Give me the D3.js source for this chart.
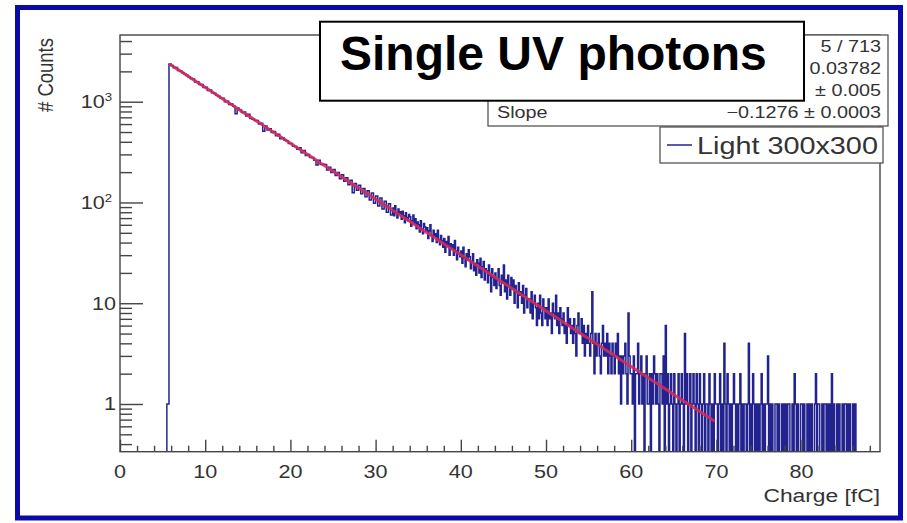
<!DOCTYPE html>
<html><head><meta charset="utf-8">
<script src="https://cdn.jsdelivr.net/npm/d3@7"></script>
<style>body{margin:0;background:#fff}svg{display:block}</style>
</head><body><svg id="c" width="907" height="523"></svg>
<script>
// ---------------- data ----------------
const xTickValues = [0, 10, 20, 30, 40, 50, 60, 70, 80];
const yTickValues = [1, 10, 100, 1000];
const yTickLabels = [["1", ""], ["10", ""], ["10", "2"], ["10", "3"]];
const xDomain = [0, 89.2];
const yDomain = [0.3362, 4592];

// histogram counts, section 1: bins of 0.25 fC starting at 5.5 fC
const mainStart = 5.5, mainWidth = 0.25;
const countsMain = [
  1, 2370,
  2290, 2170, 2180, 2040,  2020, 1950, 1870, 1820,  1760, 1700, 1680, 1570,  1580, 1480, 1480, 1380,
  1390, 1290, 1310, 1230,  1210, 1160, 1130, 1080,  1080, 1000, 1010, 940,   950, 900, 760, 860,
  830, 780, 790, 720,      750, 680, 670, 650,      650, 600, 610, 510,      575, 525, 540, 495,
  505, 460, 475, 430,      440, 415, 410, 385,      385, 362, 360, 338,      350, 312, 328, 292,
  300, 280, 280, 262,      236, 262, 238, 240,      238, 210, 224, 198,      212, 185, 198, 172,
  188, 162, 176, 150,      166, 125, 154, 132,      148, 122, 138, 114,      131, 106, 124, 98,
  116, 92, 111, 86,        103, 80, 97, 75
];
// section 2: bins of 0.125 fC starting at 32 fC
const midStart = 32, midWidth = 0.125;
const countsMid = [
  88,74,93,79,70,86,77,81,  68,82,74,63,79,71,66,76,  72,58,66,75,61,69,55,64,
  60,51,66,55,49,62,57,52,  56,44,52,60,47,41,53,46,  49,40,53,43,38,47,42,36,
  44,32,41,37,46,30,39,35,  38,30,42,33,27,36,31,29,  33,25,36,28,23,31,27,34,
  29,22,26,31,21,25,19,27,  25,20,28,18,23,26,17,22,  21,16,24,19,13,22,18,15,
  20,14,17,22,15,12,19,16,  24,13,17,11,19,15,12,18,  14,17,10,15,13,9,16,12,
  13,10,15,8,12,14,9,11,    11,8,13,7,10,12,9,6,      10,7,12,8,6,11,9,7
];
// section 3 (tail): bins of 0.125 fC starting at 50 fC
const tailStart = 50, tailWidth = 0.125;
const countsTail = [
  9,6,11,7,8,5,10,8,  7,12,6,8,5,9,7,6,  8,5,6,4,9,6,7,5,  6,4,7,5,3,6,8,5,  5,7,4,6,3,5,4,6,
  4,3,5,13,4,2,5,3,  4,5,3,2,4,6,3,4,  3,5,2,4,3,2,4,3,  2,4,3,5,2,3,1,3,  2,3,4,2,1,8,3,2,
  2,1,3,0,2,2,4,1,  2,3,1,2,0,2,3,1,  1,2,0,2,1,3,2,1,  2,1,0,2,2,1,3,0,  6,1,2,0,1,2,1,0,
  2,1,0,1,2,0,1,2,  1,0,5,1,2,0,1,2,  0,1,2,1,0,2,1,0,  2,1,0,1,2,0,1,1,  0,2,1,0,1,0,2,1,
  1,0,1,2,0,1,0,4,  1,0,2,1,0,1,0,1,  2,1,0,1,0,1,2,0,  1,0,1,1,0,1,4,0,  1,0,2,1,0,1,0,1,
  0,1,2,0,1,0,1,1,  3,0,1,0,1,0,0,1,  1,0,1,0,0,1,0,1,  0,1,0,1,1,0,0,1,  0,2,1,0,1,0,0,1,
  1,0,1,0,0,1,0,1,  0,1,0,0,1,2,0,1,  1,0,0,1,0,1,1,0,  1,0,1,0,2,0,1,0,  0,1,0,1,0,0,1,0,
  1,1,0,1,0,1,0,0,  1,0,1,0,0,0,0,0
];
// exponential fit: N = exp(constant + slope * x)
const fitConstant = 8.511, fitSlope = -0.1276, fitRange = [5.8, 70];
const statsLabels = ["", "", "", "Slope"];
const statsValues = ["5 / 713", "0.03782", "\u00b1 0.005", "\u22120.1276 \u00b1 0.0003"];
const legendLabel = "Light 300x300";
const titleText = "Single UV photons";
const xTitle = "Charge [fC]", yTitle = "# Counts";

// ---------------- layout ----------------
const L = 120, R = 880, T = 35, B = 451.7;
const svg = d3.select("#c");
const FONT = '"Liberation Sans", Arial, Helvetica, sans-serif';
const TXT = "#333";
const HIST = "#23238f";
const x = d3.scaleLinear().domain(xDomain).range([L, R]);
const y = d3.scaleLog().domain(yDomain).range([B, T]);

svg.append("rect").attr("width", 907).attr("height", 523).attr("fill", "#fff");

// stretched text helper (the original plot is stretched horizontally)
function stext(parent, px, py, str, size, anchor, weight) {
  const g = parent.append("g").attr("transform", `translate(${px},${py}) scale(1.2,1)`);
  return g.append("text").attr("text-anchor", anchor || "start")
    .style("font-family", FONT).style("font-size", size + "px")
    .style("font-weight", weight || "normal").attr("fill", TXT).text(str);
}

svg.append("clipPath").attr("id", "frameClip").append("rect")
  .attr("x", L).attr("y", T).attr("width", R - L).attr("height", B - T);

// ---------------- histogram ----------------
const bins = [];
countsMain.forEach((v, i) => bins.push({x0: mainStart + i * mainWidth, x1: mainStart + (i + 1) * mainWidth, v}));
countsMid.forEach((v, i) => bins.push({x0: midStart + i * midWidth, x1: midStart + (i + 1) * midWidth, v}));
countsTail.forEach((v, i) => bins.push({x0: tailStart + i * tailWidth, x1: tailStart + (i + 1) * tailWidth, v}));
let d = `M${x(bins[0].x0)},${B}`;
bins.forEach(b => {
  const yy = b.v > 0 ? y(b.v) : B;
  d += `V${yy}H${x(b.x1)}`;
});
d += `V${B}`;
svg.append("path").attr("d", d).attr("fill", "none").attr("stroke", HIST)
  .attr("stroke-width", 1.5).attr("clip-path", "url(#frameClip)");

// ---------------- fit ----------------
const fitPts = d3.range(fitRange[0], fitRange[1] + 0.001, 0.5).map(v => [v, Math.exp(fitConstant + fitSlope * v)]);
svg.append("path").attr("d", d3.line().x(p => x(p[0])).y(p => y(p[1]))(fitPts))
  .attr("fill", "none").attr("stroke", "#d42a5c").attr("stroke-width", 3).attr("opacity", 0.88);

// ---------------- frame & axes ----------------
const AX = "#444";
svg.append("rect").attr("x", L).attr("y", T).attr("width", R - L).attr("height", B - T)
  .attr("fill", "none").attr("stroke", AX).attr("stroke-width", 1.4);

const yMinor = [];
for (let e = -1; e <= 3; e++) for (let k = 2; k <= 9; k++) {
  const v = k * Math.pow(10, e);
  if (v > yDomain[0] && v < yDomain[1]) yMinor.push(v);
}
const yMinAxis = svg.append("g").attr("transform", `translate(${L},0)`)
  .call(d3.axisLeft(y).tickValues(yMinor).tickSizeInner(-12).tickSizeOuter(0).tickFormat(""));
const yMajAxis = svg.append("g").attr("transform", `translate(${L},0)`)
  .call(d3.axisLeft(y).tickValues(yTickValues).tickSizeInner(-23).tickSizeOuter(0).tickFormat(""));
const xMinor = d3.range(2, 90, 2).filter(v => v % 10 !== 0 && v < xDomain[1]);
const xMinAxis = svg.append("g").attr("transform", `translate(0,${B})`)
  .call(d3.axisBottom(x).tickValues(xMinor).tickSizeInner(-6).tickSizeOuter(0).tickFormat(""));
const xMajAxis = svg.append("g").attr("transform", `translate(0,${B})`)
  .call(d3.axisBottom(x).tickValues(xTickValues).tickSizeInner(-12).tickSizeOuter(0).tickFormat(""));
[yMinAxis, yMajAxis, xMinAxis, xMajAxis].forEach(a => {
  a.select(".domain").remove();
  a.selectAll("line").attr("stroke", AX).attr("stroke-width", 1.4);
});

xTickValues.forEach(v => stext(svg, x(v), 478, String(v), 18, "middle"));
yTickValues.forEach((v, i) => {
  const [base, sup] = yTickLabels[i];
  const t = stext(svg, sup ? 112 : 116, y(v) + 6.5, base, 18, "end");
  if (sup) { t.append("tspan").attr("dy", -7).style("font-size", "11px").text(sup); }
});
stext(svg, R, 502, xTitle, 19, "end");
svg.append("g").attr("transform", `translate(53,38) rotate(-90) scale(1,1.2)`)
  .append("text").attr("text-anchor", "end").style("font-family", FONT)
  .style("font-size", "18.5px").attr("fill", TXT).text(yTitle);

// ---------------- stats box ----------------
svg.append("rect").attr("x", 488).attr("y", 35).attr("width", 400).attr("height", 91)
  .attr("fill", "#fff").attr("stroke", "#555").attr("stroke-width", 1.3);
statsValues.forEach((s, i) => {
  const cy = 46.5 + i * 22;
  stext(svg, 881, cy + 5.8, s, 16.5, "end");
  if (statsLabels[i]) stext(svg, 497, cy + 5.8, statsLabels[i], 16.5, "start");
});

// ---------------- legend ----------------
svg.append("rect").attr("x", 660).attr("y", 127).attr("width", 223).attr("height", 36)
  .attr("fill", "#fff").attr("stroke", "#555").attr("stroke-width", 1.3);
svg.append("line").attr("x1", 667).attr("x2", 692).attr("y1", 145).attr("y2", 145)
  .attr("stroke", HIST).attr("stroke-width", 1.5);
stext(svg, 697, 153.5, legendLabel, 24, "start");

// ---------------- title box ----------------
svg.append("rect").attr("x", 320).attr("y", 21.7).attr("width", 484).attr("height", 79)
  .attr("fill", "#fff").attr("stroke", "#000").attr("stroke-width", 2);
svg.append("text").attr("x", 340).attr("y", 69.5).style("font-family", FONT)
  .style("font-size", "48px").style("font-weight", "bold").attr("fill", "#000").text(titleText);

// ---------------- outer blue frame ----------------
svg.append("rect").attr("x", 17.5).attr("y", 7.5).attr("width", 883).attr("height", 510.5)
  .attr("fill", "none").attr("stroke", "#0a0aa8").attr("stroke-width", 5);
</script></body></html>
